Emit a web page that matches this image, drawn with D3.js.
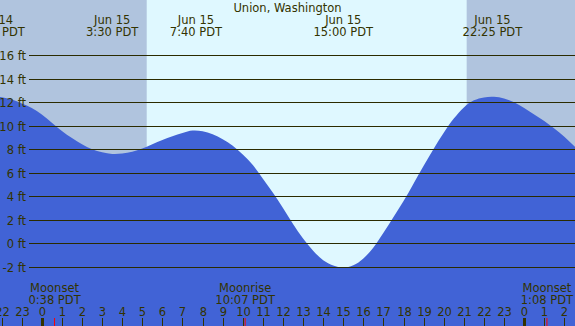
<!DOCTYPE html>
<html>
<head>
<meta charset="utf-8">
<script src="https://cdn.jsdelivr.net/npm/d3@7"></script>
<style>
  html, body { margin: 0; padding: 0; background: #fff; }
  svg { display: block; font-family: "DejaVu Sans", sans-serif; }
</style>
</head>
<body>
<div id="chart"></div>
<script>
// tide height (ft), read every half hour, hours counted from Jun 15 00:00 PDT
const hours   = d3.range(-2.5, 27.01, 0.5);
const heights = [
  12.44, 12.42, 12.22, 11.88, 11.5, 10.95, 10.25, 9.55, 8.95, 8.42,
  8.0, 7.75, 7.6, 7.63, 7.78, 8.06, 8.42, 8.78, 9.1, 9.38,
  9.58, 9.52, 9.28, 8.85, 8.3, 7.55, 6.65, 5.5, 4.3, 3.0,
  1.65, 0.42, -0.62, -1.42, -1.87, -2.04, -1.85, -1.27, -0.35, 0.9,
  2.25, 3.6, 5.1, 6.6, 8.05, 9.4, 10.6, 11.55, 12.15, 12.4,
  12.45, 12.3, 11.98, 11.5, 10.95, 10.4, 9.75, 9.05, 8.25, 7.45
];

const extremeHours = [-2.33, 3.5, 7.67, 15, 22.42];
const extremeDays  = ['Jun 14', 'Jun 15', 'Jun 15', 'Jun 15', 'Jun 15'];
const extremeTimes = ['21:40 PDT', '3:30 PDT', '7:40 PDT', '15:00 PDT', '22:25 PDT'];

const moonHours  = [0.633, 10.117, 25.133];
const moonEvents = ['Moonset', 'Moonrise', 'Moonset'];
const moonTimes  = ['0:38 PDT', '10:07 PDT', '1:08 PDT'];

const sunrise = 5.22, sunset = 21.14;
const feetTicks = [-2, 0, 2, 4, 6, 8, 10, 12, 14, 16];
const hourTicks = d3.range(-2, 27);

const W = 575, H = 326;
const TEXT = '#333300';

const x = d3.scaleLinear().domain([-2.08, 26.53]).range([0, W]);
const y = d3.scaleLinear().domain([-2, 16]).range([267, 55]);

const svg = d3.select('#chart').append('svg')
    .attr('width', W).attr('height', H);

// night / day background
svg.append('rect').attr('x', 0).attr('y', 0).attr('width', W).attr('height', H)
    .attr('fill', '#b0c4de');
svg.append('rect')
    .attr('x', x(sunrise)).attr('y', 0)
    .attr('width', x(sunset) - x(sunrise)).attr('height', H)
    .attr('fill', '#dff8ff');

// water
const tide = hours.map((h, i) => ({ h, v: heights[i] }));
const area = d3.area()
    .x(d => x(d.h))
    .y0(H)
    .y1(d => y(d.v))
    .curve(d3.curveCatmullRom.alpha(0.5));
svg.append('path').datum(tide)
    .attr('d', area)
    .attr('fill', '#4163d6');

// grid lines + labels
const grid = svg.append('g');
grid.selectAll('line').data(feetTicks).enter().append('line')
    .attr('x1', 29).attr('x2', W)
    .attr('y1', d => Math.round(y(d)) + 0.5)
    .attr('y2', d => Math.round(y(d)) + 0.5)
    .attr('stroke', '#2b2b00')
    .attr('stroke-width', 1.2);
grid.selectAll('text').data(feetTicks).enter().append('text')
    .attr('x', 26)
    .attr('y', d => Math.round(y(d)) + 5)
    .attr('text-anchor', 'end')
    .style('font-size', '11.5px')
    .attr('fill', TEXT)
    .text(d => d + ' ft');

// title
svg.append('text')
    .attr('x', W / 2).attr('y', 12)
    .attr('text-anchor', 'middle')
    .style('font-size', '11.5px')
    .attr('fill', TEXT)
    .text('Union, Washington');

// high / low labels
const ext = svg.append('g').selectAll('g')
    .data(extremeHours).enter().append('g')
    .attr('transform', d => `translate(${x(d)},0)`);
ext.append('text').attr('y', 24)
    .attr('text-anchor', 'middle').style('font-size', '11.5px').attr('fill', TEXT)
    .text((d, i) => extremeDays[i]);
ext.append('text').attr('y', 36)
    .attr('text-anchor', 'middle').style('font-size', '11.5px').attr('fill', TEXT)
    .text((d, i) => extremeTimes[i]);

// moon events
const moon = svg.append('g').selectAll('g')
    .data(moonHours).enter().append('g')
    .attr('transform', d => `translate(${x(d)},0)`);
moon.append('text').attr('y', 292)
    .attr('text-anchor', 'middle').style('font-size', '11.5px').attr('fill', TEXT)
    .text((d, i) => moonEvents[i]);
moon.append('text').attr('y', 304)
    .attr('text-anchor', 'middle').style('font-size', '11.5px').attr('fill', TEXT)
    .text((d, i) => moonTimes[i]);
moon.append('line')
    .attr('x1', 0).attr('x2', 0).attr('y1', 318).attr('y2', H)
    .attr('stroke', '#ff0000').attr('stroke-width', 1);

// hour axis
const axis = svg.append('g').selectAll('g')
    .data(hourTicks).enter().append('g')
    .attr('transform', d => `translate(${Math.round(x(d)) + 0.5},0)`);
axis.append('line')
    .attr('y1', 318).attr('y2', H)
    .attr('stroke', TEXT)
    .attr('stroke-width', d => (d % 24 === 0 ? 3 : 1));
axis.append('text')
    .attr('y', 316)
    .attr('text-anchor', 'middle')
    .style('font-size', '11.5px')
    .attr('fill', TEXT)
    .text(d => ((d % 24) + 24) % 24);
</script>
</body>
</html>
